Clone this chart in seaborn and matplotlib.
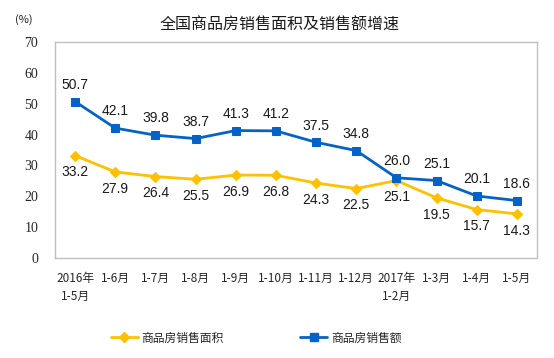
import matplotlib
matplotlib.use("Agg")
import matplotlib.pyplot as plt
import seaborn as sns
import numpy as np
import pandas as pd
from matplotlib.lines import Line2D

categories = ["2016年\n1-5月", "1-6月", "1-7月", "1-8月", "1-9月", "1-10月", "1-11月",
              "1-12月", "2017年\n1-2月", "1-3月", "1-4月", "1-5月"]
area_growth = [33.2, 27.9, 26.4, 25.5, 26.9, 26.8, 24.3, 22.5, 25.1, 19.5, 15.7, 14.3]
sales_growth = [50.7, 42.1, 39.8, 38.7, 41.3, 41.2, 37.5, 34.8, 26.0, 25.1, 20.1, 18.6]
series_names = ["商品房销售面积", "商品房销售额"]
yticks = [0, 10, 20, 30, 40, 50, 60, 70]

sns.set_theme(style="white")
plt.rcParams['font.family'] = ['Noto Sans CJK SC', 'DejaVu Sans']

YELLOW = "#FFC000"
BLUE = "#0563C8"

idx = np.arange(len(categories))
df = pd.DataFrame({"idx": idx, "area": area_growth, "sales": sales_growth})

fig = plt.figure(figsize=(5.54, 3.58), dpi=100)
ax = fig.add_axes([55/554, 100/358, 482/554, 216/358])

sns.lineplot(data=df, x="idx", y="area", ax=ax, color=YELLOW, marker="D",
             markersize=5, markeredgecolor=YELLOW, linewidth=2)
sns.lineplot(data=df, x="idx", y="sales", ax=ax, color=BLUE, marker="s",
             markersize=6, markeredgecolor=BLUE, linewidth=2)

lab_font = dict(fontsize=10, family=['Liberation Sans', 'DejaVu Sans'], color="#1a1a1a")
for i, (a, s) in enumerate(zip(area_growth, sales_growth)):
    ax.annotate(f"{s:.1f}", (i, s), xytext=(0, 7), textcoords="offset points",
                ha="center", va="bottom", **lab_font)
    ax.annotate(f"{a:.1f}", (i, a), xytext=(0, -7), textcoords="offset points",
                ha="center", va="top", **lab_font)

ax.set_xlim(-0.5, len(categories) - 0.5)
ax.set_ylim(0, 70)
ax.set_yticks(yticks)
ax.set_yticklabels([str(v) for v in yticks], fontsize=10,
                   family=['Liberation Serif', 'DejaVu Serif'])
ax.set_xticks(np.arange(len(categories) + 1) - 0.5)
ax.set_xticklabels([])
ax.set_xticks(idx, minor=True)
ax.set_xticklabels(categories, minor=True, fontsize=8.5, linespacing=1.5)
ax.tick_params(axis="x", which="major", direction="in", length=4, color="#BFBFBF", width=0.8)
ax.tick_params(axis="x", which="minor", length=0, pad=10)
ax.tick_params(axis="y", length=0, pad=12)
ax.set_xlabel("")
ax.set_ylabel("")
for sp in ax.spines.values():
    sp.set_color("#BFBFBF")
    sp.set_linewidth(1)
ax.grid(False)

fig.text(280/554, 1 - 25/358, "全国商品房销售面积及销售额增速", ha="center", va="center",
         fontsize=11.5, color="#1a1a1a")
fig.text(24/554, 1 - 20/358, "(%)", ha="center", va="center", fontsize=8, color="#1a1a1a")

handles = [Line2D([], [], color=YELLOW, marker="D", markersize=5, linewidth=2),
           Line2D([], [], color=BLUE, marker="s", markersize=6, linewidth=2)]
fig.legend(handles, series_names, loc="center", bbox_to_anchor=(256/554, 1 - 338/358),
           ncol=2, frameon=False, fontsize=8.5, columnspacing=6.5, handlelength=2.3,
           handletextpad=0.3)

fig.savefig("out.png", dpi=100, facecolor="white")
